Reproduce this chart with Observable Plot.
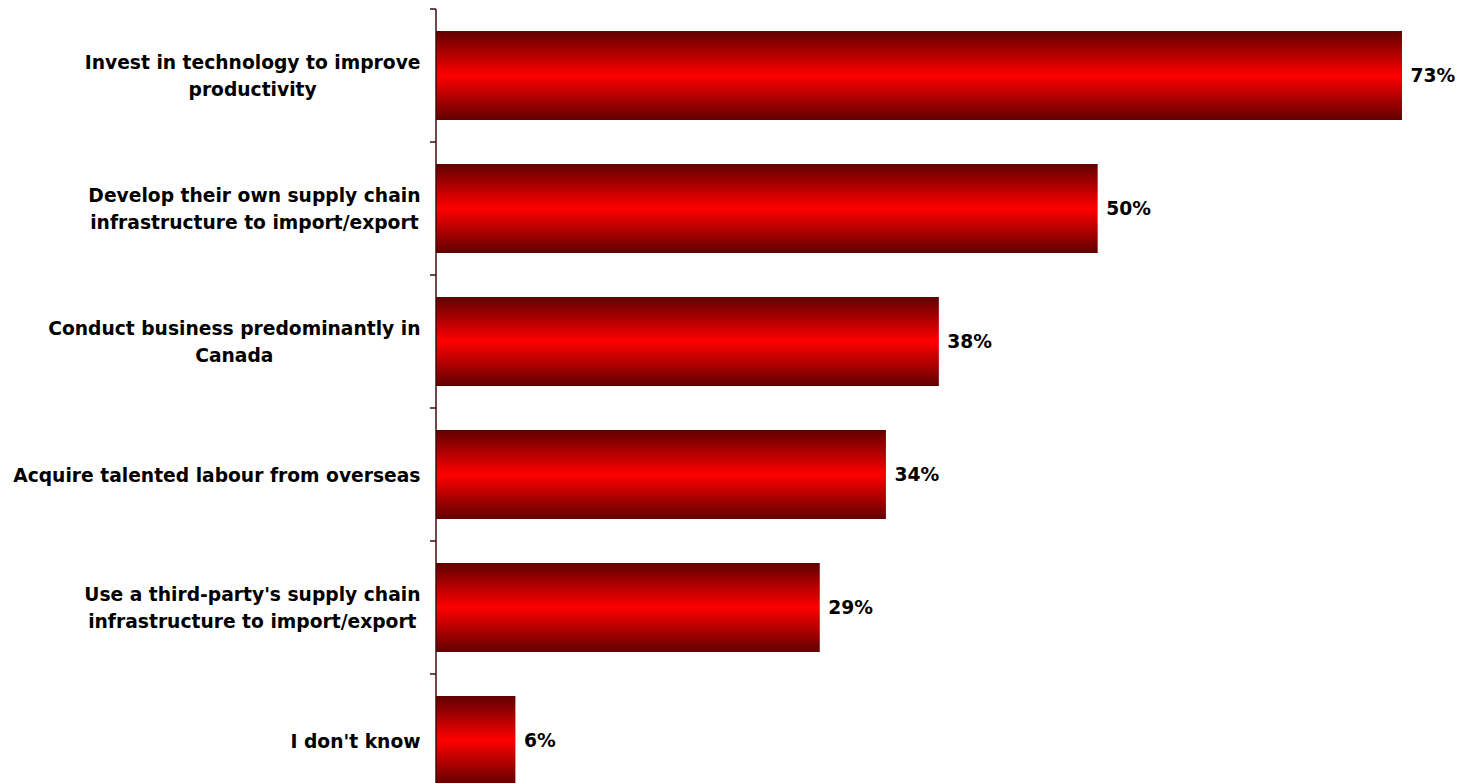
<!DOCTYPE html>
<html><head><meta charset="utf-8">
<script src="https://cdn.jsdelivr.net/npm/d3@7"></script>
<script src="https://cdn.jsdelivr.net/npm/@observablehq/plot@0.6"></script>
<style>body{margin:0;background:#fff} svg{display:block}</style>
</head><body><div id="chart"></div>
<script>
const categories = [
  "Invest in technology to improve\nproductivity",
  "Develop their own supply chain\ninfrastructure to import/export",
  "Conduct business predominantly in\nCanada",
  "Acquire talented labour from overseas",
  "Use a third-party's supply chain\ninfrastructure to import/export",
  "I don't know"
];
const values = [73, 50, 38, 34, 29, 6];
const valueLabels = ["73%", "50%", "38%", "34%", "29%", "6%"];

const data = categories.map((c, i) => ({category: c, value: values[i], label: valueLabels[i]}));

const FONT = "DejaVu Sans";
const FS = 18.7;

function gradientDefs() {
  const defs = d3.create("svg:defs");
  const lg = defs.append("linearGradient").attr("id", "barGrad")
    .attr("x1", 0).attr("y1", 0).attr("x2", 0).attr("y2", 1);
  lg.append("stop").attr("offset", "0%").attr("stop-color", "#600000");
  lg.append("stop").attr("offset", "50%").attr("stop-color", "#ff0000");
  lg.append("stop").attr("offset", "100%").attr("stop-color", "#600000");
  return defs.node();
}

function axisMark(index, scales, vals, dims) {
  const y = scales.y, x = scales.x;
  const x0 = x(0);
  const bw = typeof y.bandwidth === "function" ? y.bandwidth() : 89;
  const ys = categories.map(c => y(c));
  const step = ys[1] - ys[0];
  const gap = step - bw;
  const bounds = ys.map(v => v - gap / 2);
  bounds.push(ys[ys.length - 1] + bw + gap / 2);
  const g = d3.create("svg:g").attr("stroke", "#3f0d0d").attr("stroke-width", 1.5);
  g.append("line").attr("x1", x0).attr("x2", x0).attr("y1", bounds[0]).attr("y2", dims.height + 40);
  for (const b of bounds) {
    g.append("line").attr("x1", x0 - 6).attr("x2", x0).attr("y1", b).attr("y2", b);
  }
  return g.node();
}

const plot = Plot.plot({
  width: 1462,
  height: 783,
  margin: 0,
  style: {fontFamily: FONT, fontSize: FS + "px", background: "#fff", color: "#000"},
  x: {domain: [0, 73], range: [436, 1402], axis: null},
  y: {domain: categories, range: [9, 807], paddingInner: 0.33, paddingOuter: 0.165, axis: null},
  marks: [
    gradientDefs,
    Plot.barX(data, {x: "value", y: "category", fill: "url(#barGrad)"}),
    axisMark,
    Plot.text(data, {x: "value", y: "category", text: "label", textAnchor: "start", dx: 8,
      fontWeight: "bold", fontSize: FS, fill: "#000"}),
    Plot.text(data, {x: 0, y: "category", text: "category", textAnchor: "end", dx: -16, dy: -2,
      fontWeight: "bold", fontSize: FS, lineHeight: 1.45, fill: "#000", className: "catlabel"})
  ]
});
document.getElementById("chart").append(plot);

// center multi-line label blocks (right-aligned block, centered lines)
d3.select(plot).selectAll("g.catlabel text").each(function() {
  const bb = this.getBBox();
  const t = this.getAttribute("transform") || "";
  this.setAttribute("text-anchor", "middle");
  this.setAttribute("transform", t + ` translate(${-bb.width / 2},0)`);
});
</script>
</body></html>
